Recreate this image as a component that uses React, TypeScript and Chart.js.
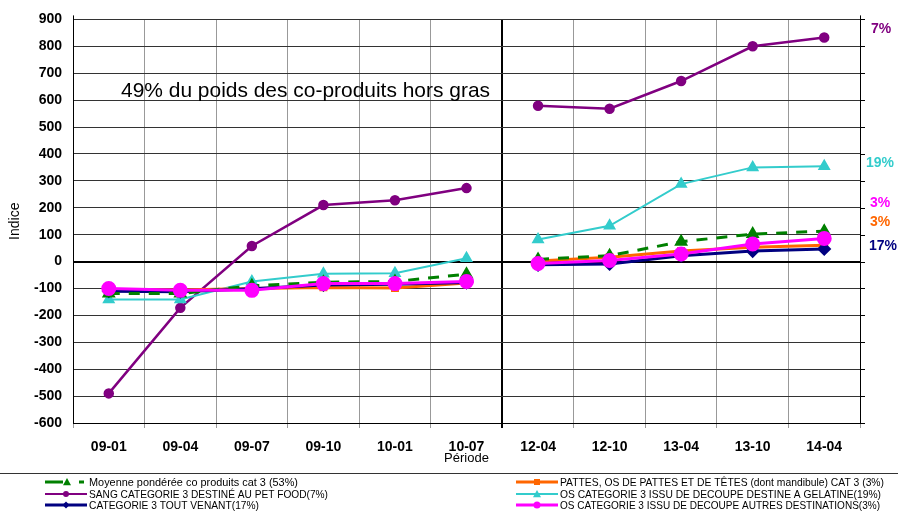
import React, { useEffect, useRef } from "react";
import { Chart, registerables } from "chart.js";

Chart.register(...registerables);

const categories = ["09-01", "09-04", "09-07", "09-10", "10-01", "10-07", "12-04", "12-10", "13-04", "13-10", "14-04"];

const moyenne = [-119, -119, -90, -77, -74, -47, 8, 22, 74, 102, 113];
const pattes = [-105, -106, -100, -96, -98, -80, 2, 16, 39, 53, 61];
const sang = [-490, -172, 58, 210, 228, 273, 579, 568, 671, 800, 833];
const gelatine = [-141, -141, -74, -45, -43, 12, 82, 133, 288, 350, 354];
const toutVenant = [-110, -112, -101, -87, -84, -78, -12, -9, 22, 39, 47];
const autres = [-100, -107, -107, -82, -82, -74, -7, 4, 28, 65, 86];

const yTicks = [-600, -500, -400, -300, -200, -100, 0, 100, 200, 300, 400, 500, 600, 700, 800, 900];

const legendLabels = [
  "Moyenne pondérée co produits cat 3 (53%)",
  "PATTES, OS DE PATTES ET DE TÊTES (dont mandibule) CAT 3 (3%)",
  "SANG CATEGORIE 3 DESTINÉ AU PET FOOD(7%)",
  "OS CATEGORIE 3 ISSU DE DECOUPE DESTINE A GELATINE(19%)",
  "CATEGORIE 3 TOUT VENANT(17%)",
  "OS CATEGORIE 3 ISSU DE DECOUPE AUTRES DESTINATIONS(3%)",
];

const shareLabels = ["7%", "19%", "3%", "3%", "17%"];
const annotation = "49% du poids des co-produits hors gras";

const FONT = "Arial, 'Liberation Sans', sans-serif";

const GREEN = "#008000";
const ORANGE = "#FF6600";
const PURPLE = "#800080";
const CYAN = "#33CCCC";
const NAVY = "#000080";
const MAGENTA = "#FF00FF";

function seg(color: string) {
  return {
    borderColor: (ctx: any) => (ctx.p0DataIndex === 5 ? "rgba(0,0,0,0)" : color),
  };
}

function drawMarker(ctx: CanvasRenderingContext2D, style: string, x: number, y: number, r: number, color: string) {
  ctx.save();
  ctx.fillStyle = color;
  ctx.beginPath();
  if (style === "circle") {
    ctx.arc(x, y, r, 0, Math.PI * 2);
  } else if (style === "triangle") {
    ctx.moveTo(x, y - r);
    ctx.lineTo(x + r, y + r * 0.8);
    ctx.lineTo(x - r, y + r * 0.8);
    ctx.closePath();
  } else if (style === "rect") {
    ctx.rect(x - r, y - r, 2 * r, 2 * r);
  } else if (style === "rectRot") {
    ctx.moveTo(x, y - r);
    ctx.lineTo(x + r, y);
    ctx.lineTo(x, y + r);
    ctx.lineTo(x - r, y);
    ctx.closePath();
  }
  ctx.fill();
  ctx.restore();
}

const overlayPlugin = {
  id: "overlay",
  afterDraw(chart: any) {
    const ctx: CanvasRenderingContext2D = chart.ctx;
    const yScale = chart.scales.y;
    const area = chart.chartArea;
    ctx.save();
    // right border with ticks
    ctx.strokeStyle = "#000";
    ctx.lineWidth = 1;
    ctx.beginPath();
    ctx.moveTo(area.right + 0.5, area.top - 4);
    ctx.lineTo(area.right + 0.5, area.bottom);
    ctx.moveTo(area.left + 0.5, area.top - 4);
    ctx.lineTo(area.left + 0.5, area.top);
    for (const v of yTicks) {
      const py = Math.round(yScale.getPixelForValue(v)) + 0.5;
      ctx.moveTo(area.right, py);
      ctx.lineTo(area.right + 5, py);
    }
    ctx.stroke();

    // annotation text
    ctx.fillStyle = "#000";
    ctx.font = `21px ${FONT}`;
    ctx.textBaseline = "alphabetic";
    ctx.textAlign = "left";
    ctx.fillText(annotation, 121, 97, 369);

    // share labels at right
    const shares = [
      { t: shareLabels[0], c: PURPLE, x: 871, y: 29 },
      { t: shareLabels[1], c: CYAN, x: 866, y: 163 },
      { t: shareLabels[2], c: MAGENTA, x: 870, y: 203 },
      { t: shareLabels[3], c: ORANGE, x: 870, y: 222 },
      { t: shareLabels[4], c: NAVY, x: 869, y: 246 },
    ];
    ctx.font = `bold 14px ${FONT}`;
    ctx.textBaseline = "middle";
    for (const s of shares) {
      ctx.fillStyle = s.c;
      ctx.fillText(s.t, s.x, s.y);
    }

    // legend separator
    ctx.strokeStyle = "#333";
    ctx.lineWidth = 1;
    ctx.beginPath();
    ctx.moveTo(0, 473.5);
    ctx.lineTo(898, 473.5);
    ctx.stroke();

    // legend entries
    const entries = [
      { col: 0, row: 0, color: GREEN, style: "triangle", dashed: true, r: 4, w: 3, mw: 209 },
      { col: 1, row: 0, color: ORANGE, style: "rect", dashed: false, r: 3, w: 3, mw: 324 },
      { col: 0, row: 1, color: PURPLE, style: "circle", dashed: false, r: 3, w: 2, mw: 239 },
      { col: 1, row: 1, color: CYAN, style: "triangle", dashed: false, r: 4, w: 2, mw: 321 },
      { col: 0, row: 2, color: NAVY, style: "rectRot", dashed: false, r: 3.5, w: 3, mw: 170 },
      { col: 1, row: 2, color: MAGENTA, style: "circle", dashed: false, r: 3.5, w: 3, mw: 320 },
    ];
    const rowsY = [482, 494, 505];
    const colX = [45, 516];
    ctx.font = `11px ${FONT}`;
    entries.forEach((e, i) => {
      const x0 = colX[e.col];
      const y = rowsY[e.row];
      ctx.strokeStyle = e.color;
      ctx.lineWidth = e.w;
      ctx.beginPath();
      if (e.dashed) {
        ctx.moveTo(x0, y);
        ctx.lineTo(x0 + 18, y);
        ctx.moveTo(x0 + 34, y);
        ctx.lineTo(x0 + 39, y);
      } else {
        ctx.moveTo(x0, y);
        ctx.lineTo(x0 + 42, y);
      }
      ctx.stroke();
      drawMarker(ctx, e.style, e.dashed ? x0 + 22 : x0 + 21, y, e.r, e.color);
      ctx.fillStyle = "#000";
      ctx.textBaseline = "middle";
      ctx.textAlign = "left";
      ctx.fillText(legendLabels[i], x0 + 44, y + 0.5, e.mw);
    });
    ctx.restore();
  },
};

export default function App() {
  const ref = useRef<HTMLCanvasElement | null>(null);

  useEffect(() => {
    document.body.style.margin = "0";
    const canvas = ref.current;
    if (!canvas) return;
    const chart = new Chart(canvas, {
      type: "line",
      data: {
        labels: categories,
        datasets: [
          {
            label: legendLabels[5],
            data: autres,
            borderColor: MAGENTA,
            backgroundColor: MAGENTA,
            borderWidth: 3,
            pointStyle: "circle",
            pointRadius: 6,
            segment: seg(MAGENTA),
            order: 0,
          },
          {
            label: legendLabels[4],
            data: toutVenant,
            borderColor: NAVY,
            backgroundColor: NAVY,
            borderWidth: 3,
            pointStyle: "rectRot",
            pointRadius: 5,
            segment: seg(NAVY),
            order: 2,
          },
          {
            label: legendLabels[1],
            data: pattes,
            borderColor: ORANGE,
            backgroundColor: ORANGE,
            borderWidth: 3,
            pointStyle: "rect",
            pointRadius: 3.5,
            segment: seg(ORANGE),
            order: 3,
          },
          {
            label: legendLabels[0],
            data: moyenne,
            borderColor: GREEN,
            backgroundColor: GREEN,
            borderWidth: 3,
            borderDash: [11, 9],
            pointStyle: "triangle",
            pointRadius: 5,
            segment: seg(GREEN),
            order: 1,
          },
          {
            label: legendLabels[3],
            data: gelatine,
            borderColor: CYAN,
            backgroundColor: CYAN,
            borderWidth: 2,
            pointStyle: "triangle",
            pointRadius: 5.5,
            segment: seg(CYAN),
            order: 4,
          },
          {
            label: legendLabels[2],
            data: sang,
            borderColor: PURPLE,
            backgroundColor: PURPLE,
            borderWidth: 2.5,
            pointStyle: "circle",
            pointRadius: 4,
            segment: seg(PURPLE),
            order: 5,
          },
        ],
      },
      options: {
        responsive: false,
        animation: false,
        maintainAspectRatio: false,
        layout: { padding: { left: 0, right: 38, top: 16, bottom: 43 } },
        plugins: {
          legend: { display: false },
          tooltip: { enabled: false },
          title: { display: false },
        },
        elements: {
          line: { tension: 0 },
          point: { borderWidth: 0, hoverRadius: 0 },
        },
        scales: {
          x: {
            type: "category",
            offset: true,
            grid: {
              offset: true,
              color: (c: any) => (c.index === 6 ? "#000" : "#999"),
              lineWidth: (c: any) => (c.index === 6 ? 2 : 1),
              drawTicks: true,
              tickLength: 5,
            },
            border: { display: true, color: "#000", width: 1 },
            ticks: {
              color: "#000",
              font: { family: FONT, size: 14, weight: "bold" },
              padding: 11,
              maxRotation: 0,
              autoSkip: false,
            },
            title: {
              display: true,
              text: "Période",
              color: "#000",
              font: { family: FONT, size: 13 },
              padding: { top: 0, bottom: 4 },
            },
            afterFit: (s: any) => {
              s.height = 47;
            },
          },
          y: {
            min: -600,
            max: 900,
            afterBuildTicks: (s: any) => {
              s.ticks = yTicks.map((v) => ({ value: v }));
            },
            grid: {
              color: (c: any) => (c.tick && c.tick.value === 0 ? "#000" : "#333"),
              lineWidth: (c: any) => (c.tick && c.tick.value === 0 ? 2 : 1),
              drawTicks: false,
            },
            border: { display: true, color: "#000", width: 1 },
            ticks: {
              color: "#000",
              font: { family: FONT, size: 14, weight: "bold" },
              padding: 11,
            },
            title: {
              display: true,
              text: "Indice",
              color: "#000",
              font: { family: FONT, size: 14 },
              padding: { top: 7, bottom: 0 },
            },
            afterFit: (s: any) => {
              s.width = 73;
            },
          },
        },
      },
      plugins: [overlayPlugin],
    });
    return () => chart.destroy();
  }, []);

  return (
    <div style={{ width: 898, height: 513, background: "#fff" }}>
      <canvas ref={ref} width={898} height={513} style={{ display: "block", width: 898, height: 513 }} />
    </div>
  );
}
